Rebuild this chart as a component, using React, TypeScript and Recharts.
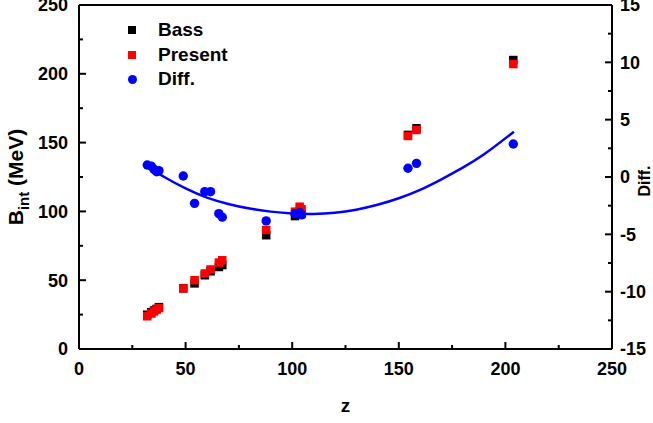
import React from "react";
import { ComposedChart, Scatter, Line, XAxis, YAxis, Legend } from "recharts";

// z values shared by the three scatter series
const zValues = [32.0, 33.9, 35.2, 36.4, 37.5, 48.9, 54.2, 59.0, 61.7, 65.6, 67.2, 87.8, 101.3, 103.5, 104.4, 154.3, 158.3, 203.7];
const bassValues = [24.9, 26.7, 28.0, 29.1, 30.4, 44.1, 47.7, 53.6, 56.5, 59.6, 61.0, 82.7, 96.6, 100.3, 98.2, 155.6, 160.4, 210.0];
const presentValues = [23.8, 25.8, 27.3, 28.6, 29.8, 44.0, 50.0, 54.9, 57.8, 62.8, 64.5, 86.5, 99.8, 103.4, 101.5, 154.8, 159.2, 207.1];
const diffValues = [1.05, 0.95, 0.67, 0.46, 0.55, 0.09, -2.3, -1.28, -1.28, -3.2, -3.5, -3.83, -3.2, -3.1, -3.3, 0.76, 1.19, 2.88];

// fitted curve on the Diff. axis
const fitZ = [32, 40, 50, 60, 70, 80, 90, 100, 110, 120, 130, 140, 150, 160, 170, 180, 190, 204];
const fitDiff = [0.9, 0.0, -1.0, -1.8, -2.35, -2.75, -3.02, -3.18, -3.22, -3.12, -2.85, -2.42, -1.85, -1.12, -0.2, 0.82, 1.98, 3.95];

const xTicks = [0, 25, 50, 75, 100, 125, 150, 175, 200, 225, 250];
const leftTicks = [0, 25, 50, 75, 100, 125, 150, 175, 200, 225, 250];
const rightTicks = [-15, -12.5, -10, -7.5, -5, -2.5, 0, 2.5, 5, 7.5, 10, 12.5, 15];

const bassData = zValues.map((z, i) => ({ z, b: bassValues[i] }));
const presentData = zValues.map((z, i) => ({ z, b: presentValues[i] }));
const diffData = zValues.map((z, i) => ({ z, d: diffValues[i] }));
const fitData = fitZ.map((z, i) => ({ z, fit: fitDiff[i] }));

const FONT = "'Liberation Sans', Arial, sans-serif";
const TICK_FONT = 18;

const BottomTick = (props: any) => {
  const { x, y, payload } = props;
  const major = payload.value % 50 === 0;
  return (
    <g>
      <line x1={x} y1={y} x2={x} y2={y - (major ? 7 : 4)} stroke="#000" strokeWidth={2} />
      {major && (
        <text x={x} y={y + 26} textAnchor="middle" fontFamily={FONT} fontWeight="bold" fontSize={TICK_FONT} fill="#000">
          {payload.value}
        </text>
      )}
    </g>
  );
};

const TopTick = (props: any) => {
  const { x, y, payload } = props;
  const major = payload.value % 50 === 0;
  return <line x1={x} y1={y} x2={x} y2={y + (major ? 7 : 4)} stroke="#000" strokeWidth={2} />;
};

const LeftTick = (props: any) => {
  const { x, y, payload } = props;
  const major = payload.value % 50 === 0;
  return (
    <g>
      <line x1={x} y1={y} x2={x + (major ? 7 : 4)} y2={y} stroke="#000" strokeWidth={2} />
      {major && (
        <text x={x - 11} y={y} dy="0.36em" textAnchor="end" fontFamily={FONT} fontWeight="bold" fontSize={TICK_FONT} fill="#000">
          {payload.value}
        </text>
      )}
    </g>
  );
};

const RightTick = (props: any) => {
  const { x, y, payload } = props;
  const major = payload.value % 5 === 0;
  return (
    <g>
      <line x1={x} y1={y} x2={x - (major ? 7 : 4)} y2={y} stroke="#000" strokeWidth={2} />
      {major && (
        <text x={x + 8} y={y} dy="0.36em" textAnchor="start" fontFamily={FONT} fontWeight="bold" fontSize={TICK_FONT} fill="#000">
          {payload.value}
        </text>
      )}
    </g>
  );
};

const SquareShape = (color: string) => (props: any) => {
  const { cx, cy } = props;
  return <rect x={cx - 4.25} y={cy - 4.25} width={8.5} height={8.5} fill={color} />;
};

const CircleShape = (props: any) => {
  const { cx, cy } = props;
  return <circle cx={cx} cy={cy} r={4.7} fill="#0000ff" />;
};

const LeftLabel = (props: any) => {
  const { viewBox } = props;
  const cx = viewBox.x + 23;
  const cy = viewBox.y + viewBox.height / 2;
  return (
    <text
      x={cx}
      y={cy}
      transform={`rotate(-90, ${cx}, ${cy})`}
      textAnchor="middle"
      fontFamily={FONT}
      fontWeight="bold"
      fontSize={21}
      fill="#000"
    >
      B<tspan dy={6} fontSize={15}>int</tspan>
      <tspan dy={-6}> (MeV)</tspan>
    </text>
  );
};

const RightLabel = (props: any) => {
  const { viewBox } = props;
  const cx = viewBox.x + viewBox.width - 3;
  const cy = viewBox.y + viewBox.height / 2 + 4;
  return (
    <text
      x={cx}
      y={cy}
      transform={`rotate(-90, ${cx}, ${cy})`}
      textAnchor="middle"
      fontFamily={FONT}
      fontWeight="bold"
      fontSize={16}
      fill="#000"
    >
      Diff.
    </text>
  );
};

const legendItems = [
  { name: "Bass", color: "#000000", shape: "square" },
  { name: "Present", color: "#ff0000", shape: "square" },
  { name: "Diff.", color: "#0000ff", shape: "circle" },
];

const LegendContent = () => (
  <div style={{ fontFamily: FONT, fontWeight: "bold", fontSize: 19, color: "#000" }}>
    {legendItems.map((item) => (
      <div key={item.name} style={{ display: "flex", alignItems: "center", height: 24.5 }}>
        <div style={{ width: 24, display: "flex", justifyContent: "center" }}>
          <div
            style={{
              width: item.shape === "circle" ? 9 : 8,
              height: item.shape === "circle" ? 9 : 8,
              background: item.color,
              borderRadius: item.shape === "circle" ? "50%" : 0,
            }}
          />
        </div>
        <span style={{ marginLeft: 14 }}>{item.name}</span>
      </div>
    ))}
  </div>
);

export default function App() {
  return (
    <div style={{ position: "absolute", left: 0, top: 0, background: "#fff" }}>
      <ComposedChart width={653} height={423} margin={{ top: 0, right: 0, bottom: 0, left: 0 }}>
        <XAxis
          xAxisId="bottom"
          type="number"
          dataKey="z"
          domain={[0, 250]}
          ticks={xTicks}
          interval={0}
          height={74}
          tickSize={0}
          tickMargin={0}
          tickLine={false}
          tick={<BottomTick />}
          axisLine={{ stroke: "#000", strokeWidth: 2 }}
          label={{
            value: "z",
            position: "insideBottom",
            offset: 11,
            style: { fontFamily: FONT, fontWeight: "bold", fontSize: 19, fill: "#000" },
          }}
        />
        <XAxis
          xAxisId="top"
          orientation="top"
          type="number"
          dataKey="z"
          domain={[0, 250]}
          ticks={xTicks}
          interval={0}
          height={5}
          tickSize={0}
          tickMargin={0}
          tickLine={false}
          tick={<TopTick />}
          axisLine={{ stroke: "#000", strokeWidth: 2 }}
        />
        <YAxis
          yAxisId="left"
          type="number"
          domain={[0, 250]}
          ticks={leftTicks}
          interval={0}
          width={79}
          tickSize={0}
          tickMargin={0}
          tickLine={false}
          tick={<LeftTick />}
          axisLine={{ stroke: "#000", strokeWidth: 2 }}
          label={{ content: <LeftLabel /> }}
        />
        <YAxis
          yAxisId="right"
          orientation="right"
          type="number"
          domain={[-15, 15]}
          ticks={rightTicks}
          interval={0}
          width={41}
          tickSize={0}
          tickMargin={0}
          tickLine={false}
          tick={<RightTick />}
          axisLine={{ stroke: "#000", strokeWidth: 2 }}
          label={{ content: <RightLabel /> }}
        />
        <Legend
          layout="vertical"
          align="center"
          verticalAlign="middle"
          content={<LegendContent />}
          wrapperStyle={{ left: 120, top: 18, width: 200, height: 80 }}
        />
        <Scatter
          name="Bass"
          data={bassData}
          dataKey="b"
          xAxisId="bottom"
          yAxisId="left"
          shape={SquareShape("#000000")}
          isAnimationActive={false}
        />
        <Scatter
          name="Present"
          data={presentData}
          dataKey="b"
          xAxisId="bottom"
          yAxisId="left"
          shape={SquareShape("#ff0000")}
          isAnimationActive={false}
        />
        <Scatter
          name="Diff."
          data={diffData}
          dataKey="d"
          xAxisId="bottom"
          yAxisId="right"
          shape={CircleShape}
          isAnimationActive={false}
        />
        <Line
          data={fitData}
          dataKey="fit"
          xAxisId="bottom"
          yAxisId="right"
          type="natural"
          stroke="#0000ff"
          strokeWidth={2.5}
          dot={false}
          activeDot={false}
          legendType="none"
          isAnimationActive={false}
        />
      </ComposedChart>
    </div>
  );
}
